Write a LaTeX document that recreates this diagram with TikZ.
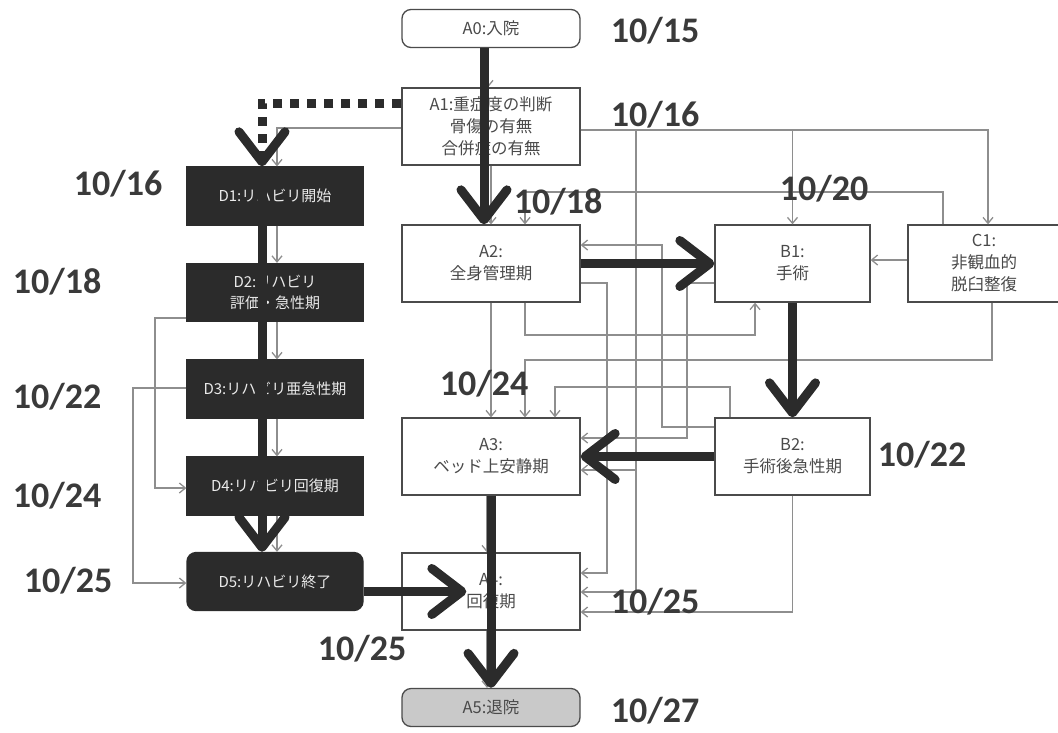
\documentclass[tikz,border=0pt]{standalone}
\usepackage{fontspec}
\setmainfont{Carlito}
\newfontfamily\jpfont{Noto Sans CJK JP}
\usetikzlibrary{positioning,arrows.meta,calc}
\definecolor{ink}{HTML}{2B2B2B}
\definecolor{wiregray}{HTML}{8E8E8E}
\definecolor{datec}{HTML}{3A3A3A}
\definecolor{boxtxt}{HTML}{4A4A4A}
\definecolor{endfill}{HTML}{C9C9C9}

\begin{document}
\begin{tikzpicture}[x=1pt, y=-1pt,
  phase/.style={draw=ink!85, line width=1.3pt, fill=white, minimum width=178pt, minimum height=77pt, inner sep=2pt, align=center, text=boxtxt, font=\jpfont\fontsize{16.5}{22}\selectfont},
  term/.style={phase, rounded corners=9pt, minimum height=38pt},
  rehab/.style={draw=ink, line width=1.3pt, fill=ink, minimum width=176pt, minimum height=58pt, inner sep=2pt, align=center, text=white!92!black, font=\jpfont\fontsize{15}{21}\selectfont},
  date/.style={text=datec, font=\bfseries\fontsize{36}{40}\selectfont, inner sep=0pt},
  flow/.style={draw=ink, line width=9pt, -{Straight Barb[length=30pt, width=46pt, line width=9pt, round]}},
  wire/.style={draw=wiregray, line width=1.3pt, -{Straight Barb[length=6pt, width=10pt, line width=1.3pt]}}]
\useasboundingbox (0,0) rectangle (1058,732);
% main line A
\node[term] (A0) at (491,28.5) {A0:入院};
\node[phase] (A1) at (491,126.5) {A1:重症度の判断\\骨傷の有無\\合併症の有無};
\node[phase] (A2) at (491,263.5) {A2:\\全身管理期};
\node[phase] (A3) at (491,456.5) {A3:\\ベッド上安静期};
\node[phase] (A4) at (491,591.5) {A4:\\回復期};
\node[term, fill=endfill] (A5) at (491,707.5) {A5:退院};
% surgery / reduction
\node[phase, minimum width=155pt] (B1) at (792.5,263.5) {B1:\\手術};
\node[phase, minimum width=155pt] (B2) at (792.5,456.5) {B2:\\手術後急性期};
\node[phase, minimum width=152pt] (C1) at (984,263.5) {C1:\\非観血的\\脱臼整復};
% rehab line D
\node[rehab] (D1) at (275,196) {D1:リハビリ開始};
\node[rehab] (D2) at (275,292.5) {D2:リハビリ\\評価・急性期};
\node[rehab] (D3) at (275,389) {D3:リハビリ亜急性期};
\node[rehab] (D4) at (275,486) {D4:リハビリ回復期};
\node[rehab, rounded corners=9pt] (D5) at (275,581.5) {D5:リハビリ終了};
% thin transitions
\draw[wire] ([xshift=-3pt]A0.south) -- ([xshift=-3pt]A1.north);
\draw[wire] (A1.south) -- (A2.north);
\draw[wire] (A1.west |- 0,128) -| ([xshift=2pt]D1.north);
\draw[wire] (A1.east |- 0,130) -| (B1.north);
\draw[wire] (A1.east |- 0,130) -| ([xshift=4pt]C1.north);
\draw[wire] (A1.east |- 0,130) -| (636,470) -- (A3.east |- 0,470);
\draw[wire] (A1.east |- 0,130) -| (636,592) -- (A4.east |- 0,592);
\draw[wire] ([xshift=-41pt]C1.north) |- (525,192) -- (A2.north -| 525,0);
\draw[wire] (C1.west |- 0,260) -- (B1.east |- 0,260);
\draw[wire] ([xshift=8pt]C1.south) |- (525,360) -- (A3.north -| 525,0);
\draw[wire] (A2.south -| 525,0) |- (755,335) -- (B1.south -| 755,0);
\draw[wire] (A2.south) -- (A3.north);
\draw[wire] (A2.east |- 0,283) -| (607,573) -- (A4.east |- 0,573);
\draw[wire] (B2.west |- 0,427) -| (662,245) -- (A2.east |- 0,245);
\draw[wire] (B2.north -| 730,0) |- (555,387) -- (A3.north -| 555,0);
\draw[wire] (B2.south) |- (A4.east |- 0,612);
\draw[wire] (B1.west |- 0,283) -| (687,438) -- (A3.east |- 0,438);
\draw[wire] ([xshift=-4pt]A3.south) -- ([xshift=-4pt]A4.north);
\draw[wire] ([xshift=-4pt]A4.south) -- ([xshift=-4pt]A5.north);
\foreach \u/\v in {D1/D2,D2/D3,D3/D4,D4/D5}
  \draw[wire] ([xshift=2pt]\u.south) -- ([xshift=2pt]\v.north);
\draw[wire] (D2.west |- 0,318) -| (155,488) -- (D4.west |- 0,488);
\draw[wire] (D3.west |- 0,388) -| (133,583) -- (D5.west |- 0,583);
% thick path of this patient
\draw[flow] ([xshift=-7pt]A0.south) -- ([xshift=-7pt]A2.north);
\draw[flow] (A2.east) -- (B1.west);
\draw[flow] (B1.south) -- (B2.north);
\draw[flow] (B2.west) -- (A3.east);
\draw[flow] (A3.south) -- (A5.north);
\draw[flow] ($(D5.east)+(0,10)$) -- ($(A4.west)+(65,0)$);
\draw[flow, dash pattern=on 9pt off 8pt] ($(A1.west)+(0,-23)$) -| ([xshift=-13pt]D1.north);
\draw[flow] ([xshift=-13pt]D1.north) -- ([xshift=-13pt]D5.north);
% dates
\node[date] (d1015) at (655,31) {10/15};
\node[date] (d1016a) at (655,115) {10/16};
\node[date] (d1016b) at (118,184) {10/16};
\node[date] (d1018a) at (57,282) {10/18};
\node[date] (d1018b) at (558,202) {10/18};
\node[date] (d1020) at (824,189) {10/20};
\node[date] (d1022a) at (57,397) {10/22};
\node[date] (d1022b) at (922,455) {10/22};
\node[date] (d1024a) at (484,384) {10/24};
\node[date] (d1024b) at (57,496) {10/24};
\node[date] (d1025a) at (68,581) {10/25};
\node[date] (d1025b) at (655,602) {10/25};
\node[date] (d1025c) at (362,649) {10/25};
\node[date] (d1027) at (655,711) {10/27};
\end{tikzpicture}
\end{document}
